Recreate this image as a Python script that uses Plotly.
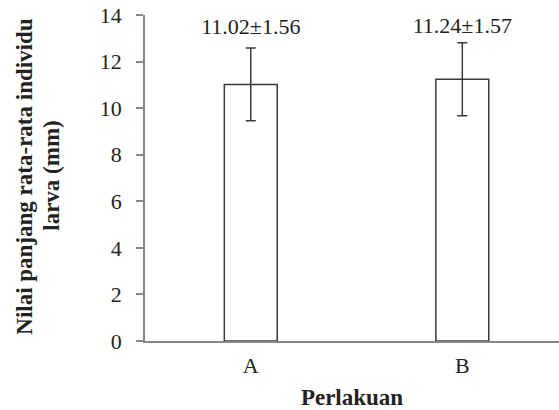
import plotly.graph_objects as go

categories = ["A", "B"]
means = [11.02, 11.24]
sds = [1.56, 1.57]
labels = ["11.02±1.56", "11.24±1.57"]
label_y = [13.4, 13.45]
y_ticks = [0, 2, 4, 6, 8, 10, 12, 14]
y_title_lines = ["Nilai panjang rata-rata individu", "larva (mm)"]
x_title = "Perlakuan"

FONT = "Liberation Serif"

fig = go.Figure()
fig.add_trace(go.Bar(
    x=categories, y=means, width=0.25,
    marker=dict(color="white", line=dict(color="#3a3a3a", width=1.5)),
    error_y=dict(type="data", array=sds, visible=True, color="#3a3a3a", thickness=1.5, width=5),
    showlegend=False,
))
fig.add_trace(go.Scatter(
    x=categories, y=label_y, mode="text", text=labels,
    textfont=dict(family=FONT, size=22, color="#222222"),
    showlegend=False, hoverinfo="skip",
))

for i, (line, xp) in enumerate(zip(y_title_lines, [-0.2899, -0.2246])):
    fig.add_annotation(
        text=f"<b>{line}</b>", xref="paper", yref="paper", x=xp, y=0.507,
        xanchor="center", yanchor="middle", textangle=-90, showarrow=False,
        font=dict(family=FONT, size=23, color="#222222"),
    )

fig.update_layout(
    width=559, height=410,
    margin=dict(l=145, r=0, t=15, b=69),
    paper_bgcolor="white", plot_bgcolor="white",
    font=dict(family=FONT, size=22, color="#222222"),
    xaxis=dict(
        range=[-0.5, 1.457], showline=True, linecolor="#888888", linewidth=1.5,
        ticks="", showgrid=False, zeroline=False, ticklabelstandoff=4,
        tickfont=dict(family=FONT, size=22),
        title=dict(text=f"<b>{x_title}</b>", font=dict(family=FONT, size=23), standoff=14),
    ),
    yaxis=dict(
        range=[0, 14], tickvals=y_ticks, showline=True, linecolor="#888888", linewidth=1.5,
        ticks="outside", ticklen=7, tickcolor="#888888", tickwidth=1.5,
        showgrid=False, zeroline=False, ticklabelstandoff=10,
        tickfont=dict(family=FONT, size=22),
    ),
)

fig.write_html("out.html", config={"displayModeBar": False},
               post_script="document.body.style.margin='0';document.body.style.overflow='hidden';")
